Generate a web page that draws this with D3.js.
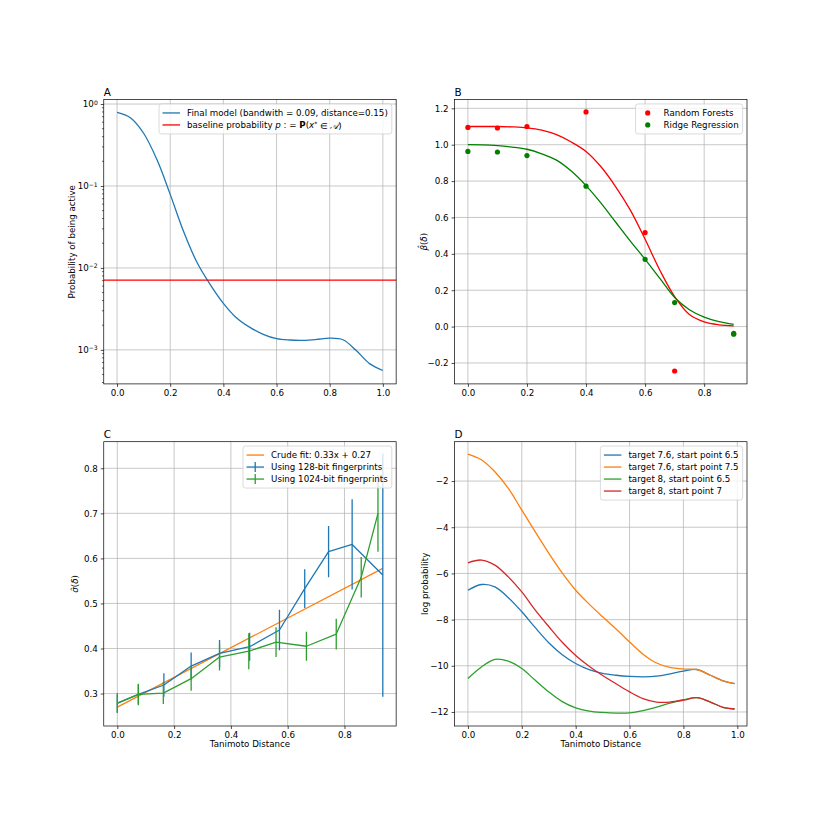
<!DOCTYPE html>
<html>
<head>
<meta charset="utf-8">
<script src="https://cdn.jsdelivr.net/npm/d3@7"></script>
<style>
body { margin: 0; background: #fff; }
text { font-family: "DejaVu Sans", sans-serif; fill: #000; }
</style>
</head>
<body>
<script>
// ---- panel A: probability of being active (log scale)
const aX = [0, 0.05, 0.1, 0.15, 0.2, 0.25, 0.3, 0.35, 0.4, 0.45, 0.5, 0.55, 0.6, 0.65, 0.7, 0.75, 0.8, 0.85, 0.9, 0.95, 1.0];
const aModel = [0.79, 0.68, 0.44, 0.21, 0.079, 0.028, 0.0118, 0.0063, 0.0037, 0.00245, 0.00188, 0.00155, 0.00137, 0.00132, 0.00131, 0.00134, 0.00139, 0.00133, 0.00098, 0.00068, 0.00056];
const aBaseline = 0.0071;

// ---- panel B: beta hat
const bPtX = [0, 0.1, 0.2, 0.4, 0.6, 0.7, 0.9];
const bRF = [1.095, 1.092, 1.10, 1.18, 0.517, -0.244, -0.037];
const bRidge = [0.963, 0.96, 0.94, 0.772, 0.37, 0.132, -0.042];
const bCurveX = [0, 0.05, 0.1, 0.15, 0.2, 0.25, 0.3, 0.35, 0.4, 0.45, 0.5, 0.55, 0.6, 0.65, 0.7, 0.75, 0.8, 0.85, 0.9];
const bRFCurve = [1.10, 1.10, 1.10, 1.098, 1.093, 1.08, 1.055, 1.015, 0.963, 0.88, 0.77, 0.64, 0.48, 0.31, 0.165, 0.066, 0.026, 0.01, 0.004];
const bRidgeCurve = [1.0, 0.999, 0.995, 0.987, 0.975, 0.95, 0.915, 0.855, 0.775, 0.68, 0.575, 0.47, 0.37, 0.265, 0.16, 0.093, 0.052, 0.027, 0.012];

// ---- panel C: sigma hat with error bars
const cFitX = [0, 0.935];
const cFitY = [0.27, 0.578];
const c128X = [0, 0.074, 0.164, 0.26, 0.36, 0.466, 0.571, 0.66, 0.744, 0.827, 0.935];
const c128Y = [0.278, 0.298, 0.319, 0.361, 0.389, 0.404, 0.441, 0.533, 0.615, 0.631, 0.563];
const c128E = [0.02, 0.022, 0.026, 0.03, 0.03, 0.031, 0.045, 0.043, 0.057, 0.10, 0.27];
const c1024X = [0, 0.074, 0.162, 0.26, 0.36, 0.463, 0.559, 0.666, 0.771, 0.859, 0.918];
const c1024Y = [0.279, 0.298, 0.301, 0.333, 0.381, 0.394, 0.414, 0.405, 0.432, 0.558, 0.70];
const c1024E = [0.022, 0.024, 0.024, 0.027, 0.03, 0.04, 0.033, 0.032, 0.034, 0.045, 0.085];

// ---- panel D: log probability
const dX = [0, 0.05, 0.1, 0.15, 0.2, 0.25, 0.3, 0.35, 0.4, 0.45, 0.5, 0.55, 0.6, 0.65, 0.7, 0.75, 0.8, 0.85, 0.9, 0.95, 0.99];
const d76_65 = [-6.73, -6.48, -6.58, -7.05, -7.66, -8.35, -9.0, -9.52, -9.9, -10.17, -10.33, -10.41, -10.46, -10.48, -10.45, -10.35, -10.23, -10.16, -10.41, -10.66, -10.77];
const d76_75 = [-0.83, -1.08, -1.6, -2.32, -3.26, -4.2, -5.12, -5.98, -6.73, -7.33, -7.88, -8.41, -8.97, -9.5, -9.88, -10.07, -10.14, -10.16, -10.41, -10.66, -10.77];
const d8_65 = [-10.55, -10.05, -9.72, -9.8, -10.12, -10.63, -11.13, -11.55, -11.82, -11.96, -12.02, -12.05, -12.04, -11.94, -11.79, -11.62, -11.47, -11.38, -11.57, -11.81, -11.87];
const d8_7 = [-5.54, -5.42, -5.64, -6.15, -6.8, -7.59, -8.3, -8.98, -9.55, -10.02, -10.42, -10.78, -11.13, -11.42, -11.57, -11.57, -11.49, -11.38, -11.57, -11.81, -11.87];

const dLabels = ['target 7.6, start point 6.5', 'target 7.6, start point 7.5', 'target 8, start point 6.5', 'target 8, start point 7'];

const C0 = '#1f77b4', C1 = '#ff7f0e', C2 = '#2ca02c', C3 = '#d62728';

const W = 830, H = 830;
const FS = 8.7;
const aw = 292.4, ah = 284.3;
const cols = [103.75, 454.6], rows = [99.6, 441.7];
const LW = 1.3;
const smooth = d3.curveCatmullRom.alpha(0.5);

const svg = d3.select('body').append('svg').attr('width', W).attr('height', H);
const zip = (xs, ys) => xs.map((x, i) => [x, ys[i]]);

let clipN = 0;
function panel(col, row, title) {
    const g = svg.append('g').attr('transform', `translate(${cols[col]},${rows[row]})`);
    const id = 'clip' + (clipN++);
    g.append('clipPath').attr('id', id).append('rect').attr('width', aw).attr('height', ah);
    g.append('text').attr('x', 0).attr('y', -4).attr('font-size', 10.4).text(title);
    return { g, id };
}

function grid(g, x, y, xt, yt) {
    g.append('g').selectAll('line').data(xt).join('line')
        .attr('x1', d => x(d)).attr('x2', d => x(d)).attr('y1', 0).attr('y2', ah)
        .attr('stroke', '#b0b0b0').attr('stroke-width', 0.7);
    g.append('g').selectAll('line').data(yt).join('line')
        .attr('y1', d => y(d)).attr('y2', d => y(d)).attr('x1', 0).attr('x2', aw)
        .attr('stroke', '#b0b0b0').attr('stroke-width', 0.7);
}

function axes(g, x, y, xt, yt, xf, yf) {
    g.append('rect').attr('width', aw).attr('height', ah)
        .attr('fill', 'none').attr('stroke', '#000').attr('stroke-width', 0.7);
    const bx = g.append('g').attr('transform', `translate(0,${ah})`)
        .call(d3.axisBottom(x).tickValues(xt).tickFormat(xf).tickSize(3).tickPadding(3));
    const ly = g.append('g')
        .call(d3.axisLeft(y).tickValues(yt).tickFormat(yf).tickSize(3).tickPadding(3));
    [bx, ly].forEach(a => {
        a.attr('font-family', null).attr('font-size', FS);
        a.select('.domain').remove();
        a.selectAll('.tick line').attr('stroke-width', 0.7);
    });
    return { bx, ly };
}

function ylabel(g, cx, content) {
    const t = g.append('text').attr('transform', `translate(${cx},${ah / 2}) rotate(-90)`)
        .attr('text-anchor', 'middle').attr('dy', '0.35em').attr('font-size', FS);
    content(t);
}

function xlabel(g, text) {
    g.append('text').attr('x', aw / 2).attr('y', ah + 20.8).attr('text-anchor', 'middle')
        .attr('font-size', FS).text(text);
}

function legend(g, entries) {
    const rowH = 12, top = 9;
    const lg = g.append('g');
    const box = lg.append('rect');
    const texts = entries.map((e, i) => {
        const t = lg.append('text').attr('x', 28).attr('y', top + rowH * i).attr('dy', '0.35em').attr('font-size', FS);
        e.label(t);
        return t;
    });
    const tw = d3.max(texts, t => t.node().getComputedTextLength());
    const bw = 28 + tw + 4, bh = top * 2 + rowH * (entries.length - 1);
    box.attr('width', bw).attr('height', bh).attr('rx', 2.5)
        .attr('fill', '#fff').attr('fill-opacity', 0.8).attr('stroke', '#cccccc').attr('stroke-width', 0.7);
    entries.forEach((e, i) => {
        const cy = top + rowH * i;
        if (e.type === 'marker') {
            lg.append('circle').attr('cx', 12.2).attr('cy', cy).attr('r', 2.6).attr('fill', e.color);
        } else {
            lg.append('line').attr('x1', 3.5).attr('x2', 21).attr('y1', cy).attr('y2', cy)
                .attr('stroke', e.color).attr('stroke-width', LW);
            if (e.type === 'errorbar') {
                lg.append('line').attr('x1', 12.2).attr('x2', 12.2).attr('y1', cy - 5).attr('y2', cy + 5)
                    .attr('stroke', e.color).attr('stroke-width', LW);
            }
        }
    });
    lg.attr('transform', `translate(${aw - 4.35 - bw},4.35)`);
}

function drawLine(g, id, pts, color, curve) {
    g.append('path').attr('clip-path', `url(#${id})`)
        .attr('d', d3.line().x(d => d[0]).y(d => d[1]).curve(curve || d3.curveLinear)(pts))
        .attr('fill', 'none').attr('stroke', color).attr('stroke-width', LW)
        .attr('stroke-linejoin', 'round');
}

const f1 = d3.format('.1f');

// ================= A =================
{
    const { g, id } = panel(0, 0, 'A');
    const x = d3.scaleLinear().domain([-0.05, 1.05]).range([0, aw]);
    const y = d3.scaleLog().domain([Math.pow(10, -3.415), Math.pow(10, 0.054)]).range([ah, 0]);
    const xt = [0, 0.2, 0.4, 0.6, 0.8, 1.0];
    const yt = [1e-3, 1e-2, 1e-1, 1];
    grid(g, x, y, xt, yt);
    drawLine(g, id, zip(aX, aModel).map(d => [x(d[0]), y(d[1])]), C0, smooth);
    drawLine(g, id, [[0, y(aBaseline)], [aw, y(aBaseline)]], '#ff0000');
    const { ly } = axes(g, x, y, xt, yt, f1, () => '');
    ly.selectAll('.tick text').each(function (d) {
        const e = Math.round(Math.log10(d));
        const t = d3.select(this).text('10');
        t.append('tspan').attr('dy', '-0.45em').attr('font-size', '0.7em').text(e < 0 ? '\u2212' + (-e) : String(e));
    });
    // minor ticks
    const minor = [];
    [-4, -3, -2, -1, 0].forEach(k => [2, 3, 4, 5, 6, 7, 8, 9].forEach(m => {
        const v = m * Math.pow(10, k);
        if (v > y.domain()[0] && v < y.domain()[1]) minor.push(v);
    }));
    g.append('g').selectAll('line').data(minor).join('line')
        .attr('x1', -1.8).attr('x2', 0).attr('y1', d => y(d)).attr('y2', d => y(d))
        .attr('stroke', '#000').attr('stroke-width', 0.6);
    ylabel(g, -32, t => t.text('Probability of being active'));
    legend(g, [
        { type: 'line', color: C0, label: t => t.text('Final model (bandwith = 0.09, distance=0.15)') },
        { type: 'line', color: '#ff0000', label: t => {
            t.append('tspan').text('baseline probability ');
            t.append('tspan').attr('font-style', 'italic').text('p');
            t.append('tspan').text(' : = ');
            t.append('tspan').attr('font-weight', 'bold').text('P');
            t.append('tspan').text('(');
            t.append('tspan').attr('font-style', 'italic').text('x');
            t.append('tspan').attr('dy', '-0.4em').attr('font-size', '0.7em').text('*');
            t.append('tspan').attr('dy', '0.4em').text(' \u2208 ');
            t.append('tspan').attr('font-style', 'italic').attr('font-family', 'DejaVu Serif').text('\u{1D49C}');
            t.append('tspan').text(')');
        } }
    ]);
}

// ================= B =================
{
    const { g, id } = panel(1, 0, 'B');
    const x = d3.scaleLinear().domain([-0.045, 0.945]).range([0, aw]);
    const y = d3.scaleLinear().domain([-0.315, 1.248]).range([ah, 0]);
    const xt = [0, 0.2, 0.4, 0.6, 0.8];
    const yt = [-0.2, 0, 0.2, 0.4, 0.6, 0.8, 1.0, 1.2];
    grid(g, x, y, xt, yt);
    drawLine(g, id, zip(bCurveX, bRFCurve).map(d => [x(d[0]), y(d[1])]), '#ff0000', smooth);
    drawLine(g, id, zip(bCurveX, bRidgeCurve).map(d => [x(d[0]), y(d[1])]), '#008000', smooth);
    g.append('g').selectAll('circle').data(zip(bPtX, bRF)).join('circle')
        .attr('cx', d => x(d[0])).attr('cy', d => y(d[1])).attr('r', 2.6).attr('fill', '#ff0000');
    g.append('g').selectAll('circle').data(zip(bPtX, bRidge)).join('circle')
        .attr('cx', d => x(d[0])).attr('cy', d => y(d[1])).attr('r', 2.6).attr('fill', '#008000');
    axes(g, x, y, xt, yt, f1, f1);
    ylabel(g, -31, t => {
        t.append('tspan').attr('font-style', 'italic').text('\u03B2\u0302');
        t.append('tspan').text('(');
        t.append('tspan').attr('font-style', 'italic').text('\u03B4');
        t.append('tspan').text(')');
    });
    legend(g, [
        { type: 'marker', color: '#ff0000', label: t => t.text('Random Forests') },
        { type: 'marker', color: '#008000', label: t => t.text('Ridge Regression') }
    ]);
}

// ================= C =================
{
    const { g, id } = panel(0, 1, 'C');
    const x = d3.scaleLinear().domain([-0.0478, 0.982]).range([0, aw]);
    const y = d3.scaleLinear().domain([0.228, 0.859]).range([ah, 0]);
    const xt = [0, 0.2, 0.4, 0.6, 0.8];
    const yt = [0.3, 0.4, 0.5, 0.6, 0.7, 0.8];
    grid(g, x, y, xt, yt);
    drawLine(g, id, zip(cFitX, cFitY).map(d => [x(d[0]), y(d[1])]), C1);
    [[c128X, c128Y, c128E, C0], [c1024X, c1024Y, c1024E, C2]].forEach(([xs, ys, es, col]) => {
        drawLine(g, id, zip(xs, ys).map(d => [x(d[0]), y(d[1])]), col);
        g.append('g').attr('clip-path', `url(#${id})`).selectAll('line').data(xs).join('line')
            .attr('x1', d => x(d)).attr('x2', d => x(d))
            .attr('y1', (d, i) => y(ys[i] - es[i])).attr('y2', (d, i) => y(ys[i] + es[i]))
            .attr('stroke', col).attr('stroke-width', LW);
    });
    axes(g, x, y, xt, yt, f1, f1);
    ylabel(g, -28.7, t => {
        t.append('tspan').attr('font-style', 'italic').text('\u03C3\u0302');
        t.append('tspan').text('(');
        t.append('tspan').attr('font-style', 'italic').text('\u03B4');
        t.append('tspan').text(')');
    });
    xlabel(g, 'Tanimoto Distance');
    legend(g, [
        { type: 'line', color: C1, label: t => t.text('Crude fit: 0.33x + 0.27') },
        { type: 'errorbar', color: C0, label: t => t.text('Using 128-bit fingerprints') },
        { type: 'errorbar', color: C2, label: t => t.text('Using 1024-bit fingerprints') }
    ]);
}

// ================= D =================
{
    const { g, id } = panel(1, 1, 'D');
    const x = d3.scaleLinear().domain([-0.0495, 1.036]).range([0, aw]);
    const y = d3.scaleLinear().domain([-12.607, -0.296]).range([ah, 0]);
    const xt = [0, 0.2, 0.4, 0.6, 0.8, 1.0];
    const yt = [-12, -10, -8, -6, -4, -2];
    grid(g, x, y, xt, yt);
    const series = [d76_65, d76_75, d8_65, d8_7];
    const colors = [C0, C1, C2, C3];
    series.forEach((s, i) => drawLine(g, id, zip(dX, s).map(d => [x(d[0]), y(d[1])]), colors[i], smooth));
    axes(g, x, y, xt, yt, f1, d3.format('d'));
    ylabel(g, -29.6, t => t.text('log probability'));
    xlabel(g, 'Tanimoto Distance');
    legend(g, dLabels.map((l, i) => ({ type: 'line', color: colors[i], label: t => t.text(l) })));
}
</script>
</body>
</html>
